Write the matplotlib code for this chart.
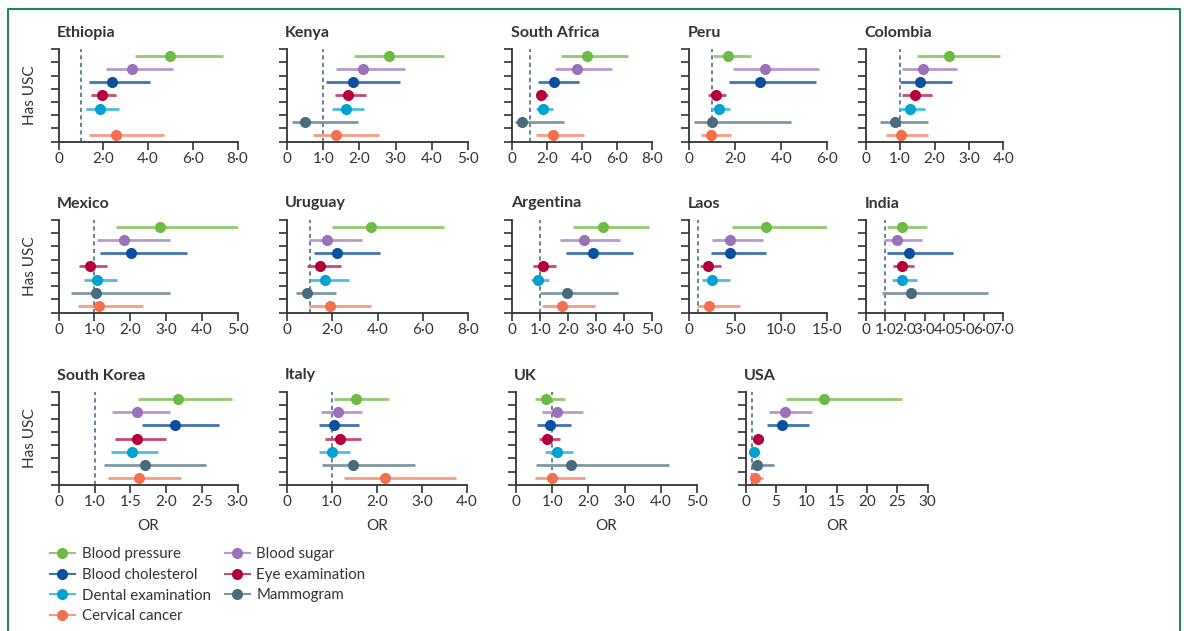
import numpy as np
import matplotlib
matplotlib.use("Agg")
import matplotlib.pyplot as plt
from matplotlib.lines import Line2D

# フォント（タイトル・目盛り共通）
plt.rcParams['font.family'] = ['Lato', 'DejaVu Sans']

nan = np.nan

# 項目（上から順）
measures = ["Blood pressure", "Blood sugar", "Blood cholesterol", "Eye examination",
            "Dental examination", "Mammogram", "Cervical cancer"]
colors = ["#6dbb45", "#9a72b8", "#0b4f9e", "#b5003c", "#00a3cf", "#4a6b7c", "#f2704f"]
ci_colors = ["#92cc70", "#b59ccd", "#3f74b0", "#cc4a72", "#4dbee2", "#7f98a5", "#f69c84"]

# 国ごとの OR と 95% CI
ethiopia_or = [5.0, 3.3, 2.37, 1.92, 1.83, nan, 2.56]
ethiopia_lo = [3.42, 2.12, 1.37, 1.46, 1.22, nan, 1.37]
ethiopia_hi = [7.37, 5.1, 4.09, 2.58, 2.72, nan, 4.72]

kenya_or = [2.83, 2.1, 1.83, 1.69, 1.63, 0.50, 1.36]
kenya_lo = [1.86, 1.35, 1.09, 1.32, 1.24, 0.13, 0.73]
kenya_hi = [4.33, 3.25, 3.11, 2.17, 2.13, 1.97, 2.54]

safrica_or = [4.31, 3.73, 2.39, 1.65, 1.76, 0.57, 2.33]
safrica_lo = [2.79, 2.45, 1.49, 1.34, 1.38, 0.13, 1.34]
safrica_hi = [6.64, 5.74, 3.85, 2.03, 2.32, 2.97, 4.11]

peru_or = [1.69, 3.28, 3.09, 1.16, 1.30, 1.01, 0.97]
peru_lo = [1.06, 1.91, 1.75, 0.82, 0.95, 0.23, 0.53]
peru_hi = [2.69, 5.65, 5.51, 1.62, 1.78, 4.42, 1.82]

colombia_or = [2.42, 1.68, 1.59, 1.42, 1.28, 0.84, 1.04]
colombia_lo = [1.50, 1.06, 1.00, 1.06, 0.97, 0.41, 0.59]
colombia_hi = [3.90, 2.65, 2.51, 1.93, 1.71, 1.80, 1.81]

mexico_or = [2.82, 1.82, 2.02, 0.88, 1.08, 1.04, 1.14]
mexico_lo = [1.59, 1.08, 1.15, 0.57, 0.72, 0.34, 0.55]
mexico_hi = [5.0, 3.11, 3.58, 1.36, 1.62, 3.11, 2.36]

uruguay_or = [3.73, 1.79, 2.21, 1.44, 1.66, 0.90, 1.90]
uruguay_lo = [2.01, 0.99, 1.19, 0.87, 1.02, 0.39, 0.98]
uruguay_hi = [6.95, 3.33, 4.13, 2.39, 2.73, 2.15, 3.72]

argentina_or = [3.26, 2.58, 2.89, 1.09, 0.93, 1.95, 1.78]
argentina_lo = [2.16, 1.72, 1.92, 0.76, 0.66, 1.00, 1.07]
argentina_hi = [4.92, 3.87, 4.32, 1.55, 1.31, 3.78, 2.97]

laos_or = [8.39, 4.43, 4.47, 2.03, 2.48, nan, 2.18]
laos_lo = [4.69, 2.48, 2.44, 1.22, 1.40, nan, 0.85]
laos_hi = [15.5, 8.02, 8.35, 3.51, 4.47, nan, 5.50]

india_or = [1.83, 1.61, 2.19, 1.83, 1.85, 2.31, nan]
india_lo = [1.08, 0.95, 1.07, 1.41, 1.34, 0.85, nan]
india_hi = [3.10, 2.88, 4.44, 2.44, 2.59, 6.24, nan]

skorea_or = [2.17, 1.60, 2.13, 1.60, 1.52, 1.70, 1.62]
skorea_lo = [1.61, 1.245, 1.66, 1.29, 1.23, 1.13, 1.19]
skorea_hi = [2.92, 2.055, 2.74, 2.00, 1.88, 2.56, 2.21]

italy_or = [1.53, 1.13, 1.05, 1.18, 0.99, 1.47, 2.18]
italy_lo = [1.04, 0.76, 0.70, 0.84, 0.71, 0.77, 1.26]
italy_hi = [2.26, 1.66, 1.59, 1.64, 1.39, 2.84, 3.76]

uk_or = [0.84, 1.14, 0.95, 0.87, 1.12, 1.51, 0.99]
uk_lo = [0.53, 0.72, 0.58, 0.64, 0.81, 0.54, 0.53]
uk_hi = [1.36, 1.84, 1.52, 1.22, 1.58, 4.23, 1.90]

usa_or = [12.9, 6.48, 6.04, 1.98, 1.32, 1.87, 1.54]
usa_lo = [6.65, 3.85, 3.57, 1.60, 1.00, 0.88, 0.82]
usa_hi = [25.7, 11.0, 10.4, 2.40, 1.60, 4.67, 2.80]

# 目盛り
ticks_8 = [0, 2, 4, 6, 8]
labels_8 = ["0", "2·0", "4·0", "6·0", "8·0"]
ticks_5 = [0, 1, 2, 3, 4, 5]
labels_5 = ["0", "1·0", "2·0", "3·0", "4·0", "5·0"]
ticks_6 = [0, 2, 4, 6]
labels_6 = ["0", "2·0", "4·0", "6·0"]
ticks_4 = [0, 1, 2, 3, 4]
labels_4 = ["0", "1·0", "2·0", "3·0", "4·0"]
ticks_15 = [0, 5, 10, 15]
labels_15 = ["0", "5·0", "10·0", "15·0"]
ticks_7 = [0, 1, 2, 3, 4, 5, 6, 7]
labels_7 = ["0", "1·0", "2·0", "3·0", "4·0", "5·0", "6·0", "7·0"]
ticks_3 = [0, 1, 1.5, 2, 2.5, 3]
labels_3 = ["0", "1·0", "1·5", "2·0", "2·5", "3·0"]
ticks_30 = [0, 5, 10, 15, 20, 25, 30]
labels_30 = ["0", "5", "10", "15", "20", "25", "30"]

W, H = 1184, 631
fig = plt.figure(figsize=(W / 100, H / 100), dpi=100)
fig.patch.set_facecolor("white")

dark = "#333333"

# 列の位置（ピクセル）
cols_top = [(58.7, 237.5), (287, 468), (512.3, 651.7), (689, 827.3), (865.7, 1003.3)]
cols_bot = [(58.7, 237.7), (287, 467), (516, 697), (745.7, 927.7)]
rows = [(49.3, 141.7), (220, 312.7), (392, 485)]

panels = [
    ("Ethiopia", ethiopia_or, ethiopia_lo, ethiopia_hi, ticks_8, labels_8, cols_top[0], rows[0]),
    ("Kenya", kenya_or, kenya_lo, kenya_hi, ticks_5, labels_5, cols_top[1], rows[0]),
    ("South Africa", safrica_or, safrica_lo, safrica_hi, ticks_8, labels_8, cols_top[2], rows[0]),
    ("Peru", peru_or, peru_lo, peru_hi, ticks_6, labels_6, cols_top[3], rows[0]),
    ("Colombia", colombia_or, colombia_lo, colombia_hi, ticks_4, labels_4, cols_top[4], rows[0]),
    ("Mexico", mexico_or, mexico_lo, mexico_hi, ticks_5, labels_5, cols_top[0], rows[1]),
    ("Uruguay", uruguay_or, uruguay_lo, uruguay_hi, ticks_8, labels_8, cols_top[1], rows[1]),
    ("Argentina", argentina_or, argentina_lo, argentina_hi, ticks_5, labels_5, cols_top[2], rows[1]),
    ("Laos", laos_or, laos_lo, laos_hi, ticks_15, labels_15, cols_top[3], rows[1]),
    ("India", india_or, india_lo, india_hi, ticks_7, labels_7, cols_top[4], rows[1]),
    ("South Korea", skorea_or, skorea_lo, skorea_hi, ticks_3, labels_3, cols_bot[0], rows[2]),
    ("Italy", italy_or, italy_lo, italy_hi, ticks_4, labels_4, cols_bot[1], rows[2]),
    ("UK", uk_or, uk_lo, uk_hi, ticks_5, labels_5, cols_bot[2], rows[2]),
    ("USA", usa_or, usa_lo, usa_hi, ticks_30, labels_30, cols_bot[3], rows[2]),
]


# 韓国のパネルは 0–1 が圧縮された軸
def kr_fwd(v):
    v = np.asarray(v, dtype=float)
    return np.where(v <= 1, v, 1 + 2 * (v - 1))


def kr_inv(p):
    p = np.asarray(p, dtype=float)
    return np.where(p <= 1, p, 1 + (p - 1) / 2)


for name, est, lo, hi, ticks, tlabels, (x0, x1), (top, bottom) in panels:
    ax = fig.add_axes([x0 / W, 1 - bottom / H, (x1 - x0) / W, (bottom - top) / H])
    if name == "South Korea":
        ax.set_xscale("function", functions=(kr_fwd, kr_inv))
    ax.set_xlim(0, ticks[-1])
    ax.set_ylim(0, 7)

    ax.axvline(1, color="#4b6f85", lw=1.2, ls=(0, (2.5, 2)), zorder=1)
    for i in range(7):
        if np.isnan(est[i]):
            continue
        y = 6.5 - i
        ax.hlines(y, lo[i], hi[i], color=ci_colors[i], lw=2, zorder=2)
        ax.plot(est[i], y, "o", color=colors[i], ms=8, mec="none", zorder=3, clip_on=False)

    for s in ["top", "right"]:
        ax.spines[s].set_visible(False)
    for s in ["left", "bottom"]:
        ax.spines[s].set_color(dark)
        ax.spines[s].set_linewidth(1.3)

    ax.set_yticks(range(8))
    ax.set_yticklabels([])
    ax.set_xticks(ticks)
    ax.set_xticklabels(tlabels)
    ax.xaxis.set_minor_locator(matplotlib.ticker.NullLocator())
    ax.tick_params(length=6, width=1.2, color=dark, labelcolor=dark, labelsize=11, pad=1.5)

    ax.set_title(name, loc="left", fontweight="bold", fontsize=11.5, color=dark, pad=9, x=-0.01)
    if x0 < 100:
        ax.set_ylabel("Has USC", fontsize=11, color=dark, labelpad=8)
    if top > 300:
        ax.set_xlabel("OR", fontsize=11, color=dark, labelpad=7)

# 凡例
order = [0, 2, 4, 6, 1, 3, 5]
handles = [Line2D([], [], color=ci_colors[i], lw=1.5, marker="o", ms=8,
                  markerfacecolor=colors[i], markeredgecolor="none") for i in order]
fig.legend(handles, [measures[i] for i in order], ncol=2, loc="upper left",
           bbox_to_anchor=(50 / W, 1 - 547 / H), frameon=False, fontsize=10.8,
           handlelength=1.65, handletextpad=0.45, columnspacing=0.95, labelspacing=0.45,
           borderpad=0, borderaxespad=0, labelcolor=dark)

# 外枠（緑の線）
fig.add_artist(Line2D([8 / W, 8 / W, 1180 / W, 1180 / W], [0, 1 - 9 / H, 1 - 9 / H, 0],
                      transform=fig.transFigure, color="#23875a", lw=1.5))

fig.savefig("out.png", dpi=100)
